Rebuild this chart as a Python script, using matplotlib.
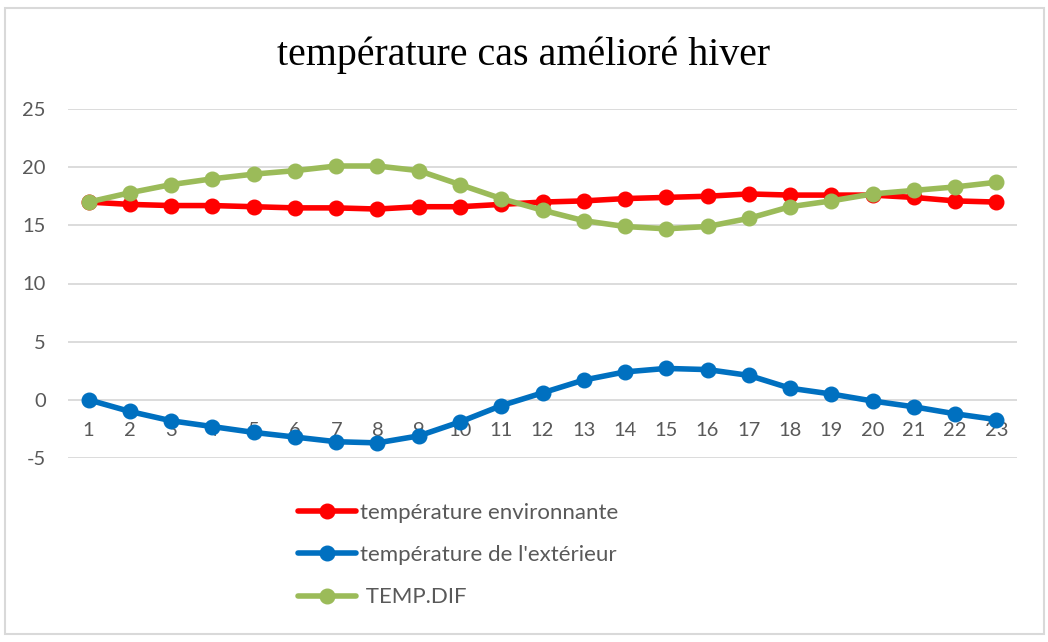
import matplotlib
matplotlib.use("Agg")
import matplotlib.pyplot as plt
from matplotlib.patches import Rectangle

hours = list(range(1, 24))
temp_env = [17.0, 16.8, 16.7, 16.7, 16.6, 16.5, 16.5, 16.4, 16.6, 16.6, 16.8, 17.0,
            17.1, 17.3, 17.4, 17.5, 17.7, 17.6, 17.6, 17.6, 17.4, 17.1, 17.0]
temp_ext = [0.0, -1.0, -1.8, -2.3, -2.8, -3.2, -3.6, -3.7, -3.1, -1.9, -0.5, 0.6,
            1.7, 2.4, 2.7, 2.6, 2.1, 1.0, 0.5, -0.1, -0.6, -1.2, -1.7]
temp_dif = [17.0, 17.8, 18.5, 19.0, 19.4, 19.7, 20.1, 20.1, 19.7, 18.5, 17.3, 16.3,
            15.4, 14.9, 14.7, 14.9, 15.6, 16.6, 17.1, 17.7, 18.0, 18.3, 18.7]
series_names = ["température environnante", "température de l'extérieur", " TEMP.DIF"]
series_colors = ["#ff0000", "#0070c0", "#9bbb59"]
y_ticks = [-5, 0, 5, 10, 15, 20, 25]

W, H = 1048, 642
fig = plt.figure(figsize=(W / 100, H / 100), dpi=100)
fig.patch.set_facecolor("white")

# outer chart frame
fig.add_artist(Rectangle((5 / W, 8 / H), 1039 / W, 626 / H, transform=fig.transFigure,
                         fill=False, edgecolor="#d9d9d9", linewidth=1.5))

left, right = 68, 1017
top, bottom = 109, 458
ax = fig.add_axes([left / W, 1 - bottom / H, (right - left) / W, (bottom - top) / H])
ax.set_xlim(0.5, 23.5)
ax.set_ylim(-5, 25)
for s in ax.spines.values():
    s.set_visible(False)
ax.set_yticks(y_ticks)
ax.set_yticklabels([str(v) for v in y_ticks])
ax.tick_params(axis="y", length=0, pad=16, labelsize=14.5, labelcolor="#595959")
ax.set_xticks([])
for v in y_ticks:
    ax.axhline(v, color="#d9d9d9", linewidth=1.3, zorder=0)

# category labels sit just under the zero line
for h in hours:
    ax.text(h, -2.6, str(h), ha="center", va="center", fontsize=14.5, color="#595959",
            family=["Lato", "DejaVu Sans"], zorder=1)

lines = []
for vals, name, col in zip([temp_env, temp_ext, temp_dif], series_names, series_colors):
    ln, = ax.plot(hours, vals, color=col, linewidth=4, marker="o", markersize=10.5,
                  solid_capstyle="round", label=name, zorder=3)
    lines.append(ln)

for t in ax.get_yticklabels():
    t.set_family(["Lato", "DejaVu Sans"])

fig.text(0.5, 1 - 55 / H, "température cas amélioré hiver", ha="center", va="center",
         fontsize=28.8, family=["Liberation Serif", "DejaVu Serif"], color="black")

leg = fig.legend(handles=lines, labels=series_names, loc="upper left",
                 bbox_to_anchor=(278 / W, 1 - 483 / H), frameon=False,
                 handlelength=2.6, handletextpad=0.2, labelspacing=1.0,
                 prop={"family": ["Lato", "DejaVu Sans"], "size": 16})
for t in leg.get_texts():
    t.set_color("#595959")

fig.savefig("out.png", dpi=100, facecolor="white")
